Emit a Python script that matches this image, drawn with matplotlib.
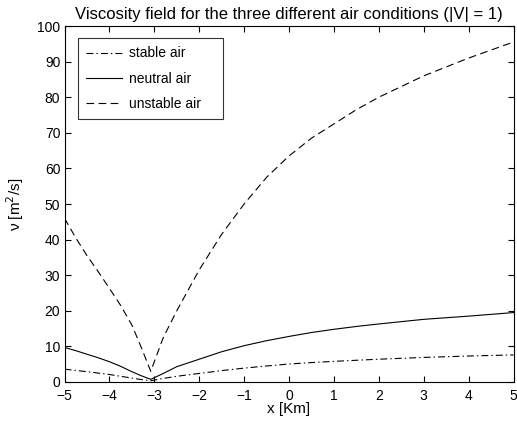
import matplotlib
matplotlib.use('Agg')
import matplotlib.pyplot as plt

plt.rcParams['font.family'] = ['Liberation Sans', 'DejaVu Sans']
plt.rcParams['lines.scale_dashes'] = False

# values
x_vals = [-5, -4.75, -4.5, -4.25, -4, -3.75, -3.5, -3.3, -3.08,
          -2.8, -2.5, -2, -1.5, -1, -0.5, 0, 0.5, 1, 1.5, 2, 3, 4, 5]
stable = [3.6, 3.25, 2.9, 2.5, 2.1, 1.6, 1.1, 0.7, 0.35,
          1.0, 1.6, 2.4, 3.2, 3.9, 4.5, 5.05, 5.45, 5.8, 6.1, 6.4, 6.9, 7.3, 7.6]
neutral = [9.7, 8.8, 7.8, 6.8, 5.7, 4.4, 2.9, 1.8, 0.75,
           2.4, 4.3, 6.4, 8.5, 10.2, 11.6, 12.8, 13.9, 14.8, 15.6, 16.3, 17.6, 18.5, 19.5]
unstable = [46, 40.5, 35.5, 31, 26.3, 21.5, 16.0, 10.0, 3.0,
            12.5, 20, 31.5, 41.5, 50, 57.5, 63.5, 68.5, 72.5, 76.5, 80, 86, 91, 95.5]
labels = ['stable air', 'neutral air', 'unstable air']

fig = plt.figure(figsize=(5.17, 4.25), dpi=100)
ax = fig.add_axes([0.1248, 0.1012, 0.8685, 0.8376])

ax.plot(x_vals, stable, color='black', lw=0.8, linestyle=(0, (5, 2.2, 1, 2.2)), label=labels[0])
ax.plot(x_vals, neutral, color='black', lw=0.8, linestyle='-', label=labels[1])
ax.plot(x_vals, unstable, color='black', lw=0.8, linestyle=(0, (5.5, 3.2)), label=labels[2])

ax.set_xlim(-5, 5)
ax.set_ylim(0, 100)
ax.set_xticks(range(-5, 6))
ax.set_yticks(range(0, 101, 10))
ax.set_xticklabels([('\u2212%d' % -v if v < 0 else str(v)) for v in range(-5, 6)])
ax.tick_params(direction='in', top=True, right=True, length=4, width=0.8, labelsize=10)
ax.tick_params(axis='x', pad=5)
ax.tick_params(axis='y', pad=3)
for s in ax.spines.values():
    s.set_linewidth(0.8)

ax.set_title('Viscosity field for the three different air conditions (|V| = 1)', fontsize=12, pad=5)
ax.set_xlabel('x [Km]', fontsize=11, labelpad=-1)
ax.set_ylabel('\u03bd [m$^2$/s]', fontsize=11, labelpad=8)

leg = ax.legend(loc='upper left', fontsize=10, frameon=True, fancybox=False, edgecolor='black',
                handlelength=2.6, borderpad=0.6, labelspacing=0.8, handletextpad=0.5,
                mode='expand', borderaxespad=0,
                bbox_to_anchor=(0.030, 0.5, 0.323, 0.466))
leg.get_frame().set_linewidth(0.8)

fig.savefig('out.png', dpi=100)
